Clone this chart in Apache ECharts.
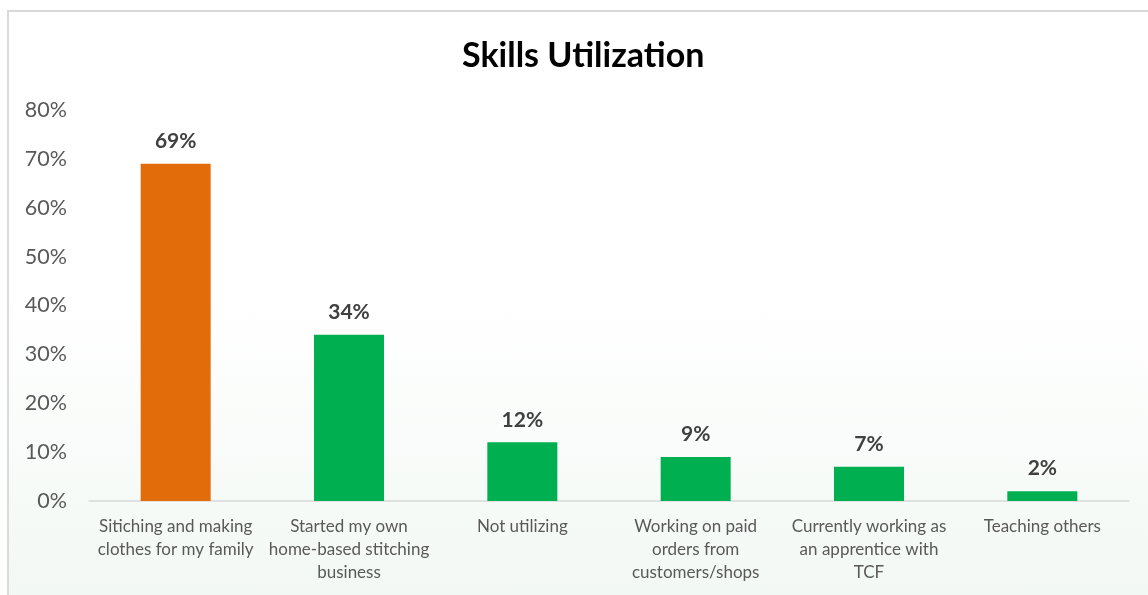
<!DOCTYPE html>
<html>
<head>
<meta charset="utf-8">
<script src="https://cdn.jsdelivr.net/npm/echarts@6/dist/echarts.min.js"></script>
<style>
  html, body { margin: 0; padding: 0; width: 1148px; height: 595px; overflow: hidden; background: #ffffff; }
  #frame {
    position: absolute; left: 7px; top: 10px; width: 1170px; height: 640px;
    border: 2px solid #d9d9d9; box-sizing: border-box;
    background: linear-gradient(to bottom, #ffffff 0%, #ffffff 45%, #f0f7f2 100%);
  }
  #chart { position: absolute; left: 0; top: 0; width: 1148px; height: 595px; }
</style>
</head>
<body>
<div id="frame"></div>
<div id="chart"></div>
<script>
// Skills utilization survey results (share of respondents)
const categories = [
  'Sitiching and making\nclothes for my family',
  'Started my own\nhome-based stitching\nbusiness',
  'Not utilizing',
  'Working on paid\norders from\ncustomers/shops',
  'Currently working as\nan apprentice with\nTCF',
  'Teaching others'
];
const values = [69, 34, 12, 9, 7, 2];
const barColors = ['#E36C0A', '#00B050', '#00B050', '#00B050', '#00B050', '#00B050'];
const yTicks = [0, 10, 20, 30, 40, 50, 60, 70, 80];

const fontFamily = 'Lato, "Open Sans", "Noto Sans", sans-serif';

const chart = echarts.init(document.getElementById('chart'), null, { renderer: 'canvas' });
chart.setOption({
  backgroundColor: 'transparent',
  animation: false,
  title: {
    text: 'Skills Utilization',
    left: 462,
    top: 39,
    padding: 0,
    textStyle: { fontFamily: fontFamily, fontWeight: 'bold', fontSize: 34, color: '#000000' }
  },
  grid: { left: 89, right: 19, top: 110, bottom: 94, containLabel: false },
  xAxis: {
    type: 'category',
    data: categories,
    axisLine: { show: true, lineStyle: { color: '#d9d9d9', width: 1.5 } },
    axisTick: { show: false },
    axisLabel: {
      interval: 0,
      margin: 14,
      fontFamily: fontFamily,
      fontSize: 17,
      lineHeight: 23,
      color: '#595959'
    },
    splitLine: { show: false }
  },
  yAxis: {
    type: 'value',
    min: yTicks[0],
    max: yTicks[yTicks.length - 1],
    interval: yTicks[1] - yTicks[0],
    axisLine: { show: false },
    axisTick: { show: false },
    splitLine: { show: false },
    axisLabel: {
      margin: 22,
      fontFamily: fontFamily,
      fontSize: 21.5,
      color: '#595959',
      formatter: v => v + '%'
    }
  },
  series: [{
    type: 'bar',
    data: values.map((v, i) => ({ value: v, itemStyle: { color: barColors[i] } })),
    barWidth: 70,
    label: {
      show: true,
      position: 'top',
      distance: 12,
      fontFamily: fontFamily,
      fontWeight: 'bold',
      fontSize: 21,
      color: '#404040',
      formatter: p => p.value + '%'
    }
  }]
});
</script>
</body>
</html>
